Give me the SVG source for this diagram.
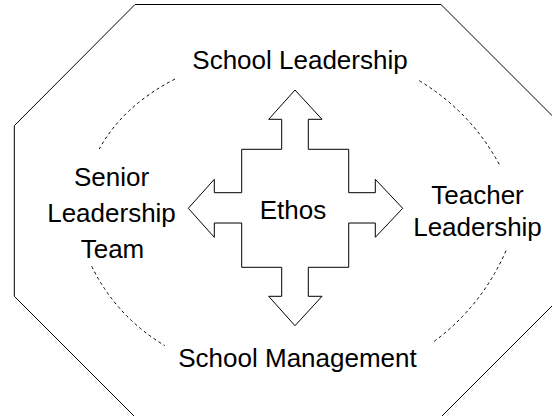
<svg xmlns="http://www.w3.org/2000/svg" width="552" height="416" viewBox="0 0 552 416">
  <style>
    .shape { fill: #ffffff; stroke: #000000; stroke-width: 1; stroke-linejoin: miter; }
    .lbl { font-family: "Liberation Sans", "DejaVu Sans", sans-serif; font-size: 26px; fill: #000000; text-anchor: middle; }
    .dash { fill: none; stroke: #000000; stroke-width: 1; stroke-dasharray: 3 3; }
  </style>
  <rect x="0" y="0" width="552" height="416" fill="#ffffff"/>
  <g id="frame">
    <polygon class="shape" points="135,4.5 441,4.5 561.7,125.2 561.7,296.3 441,417 135,417 14.3,296.3 14.3,125.7"/>
  </g>
  <g id="connectors">
    <path class="dash" d="M175,79 Q122.8,106 99.3,149"/>
    <path class="dash" d="M419.3,80.7 Q471.3,112.2 500,165.7"/>
    <path class="dash" d="M91.7,266.3 Q116.5,316.8 165,345.7"/>
    <path class="dash" d="M506,250.7 Q481.5,306.9 432,343"/>
  </g>
  <g id="ethos">
    <polygon class="shape" points="295,90 322,119.3 308.3,119.3 308.3,149.3 348.7,149.3 348.7,192.7 375.3,192.7 375.3,179.3 402.7,208.3 375.3,237.3 375.3,223 348.7,223 348.7,267.3 308.3,267.3 308.3,296.3 322,296.3 295,325.7 268.7,296.3 281.7,296.3 281.7,267.3 241.7,267.3 241.7,223 214.3,223 214.3,237.3 188.3,208.3 214.3,179.3 214.3,192.7 241.7,192.7 241.7,149.3 281.7,149.3 281.7,119.3 268.7,119.3"/>
    <text class="lbl" x="293" y="219">Ethos</text>
  </g>
  <g id="school-leadership">
    <text class="lbl" x="300" y="69">School Leadership</text>
  </g>
  <g id="senior-leadership-team">
    <text class="lbl" x="111.5" y="185.5">Senior</text>
    <text class="lbl" x="111.5" y="222">Leadership</text>
    <text class="lbl" x="112.5" y="258">Team</text>
  </g>
  <g id="teacher-leadership">
    <text class="lbl" x="477.5" y="203.5">Teacher</text>
    <text class="lbl" x="477.5" y="236">Leadership</text>
  </g>
  <g id="school-management">
    <text class="lbl" x="297.5" y="366.5">School Management</text>
  </g>
</svg>
